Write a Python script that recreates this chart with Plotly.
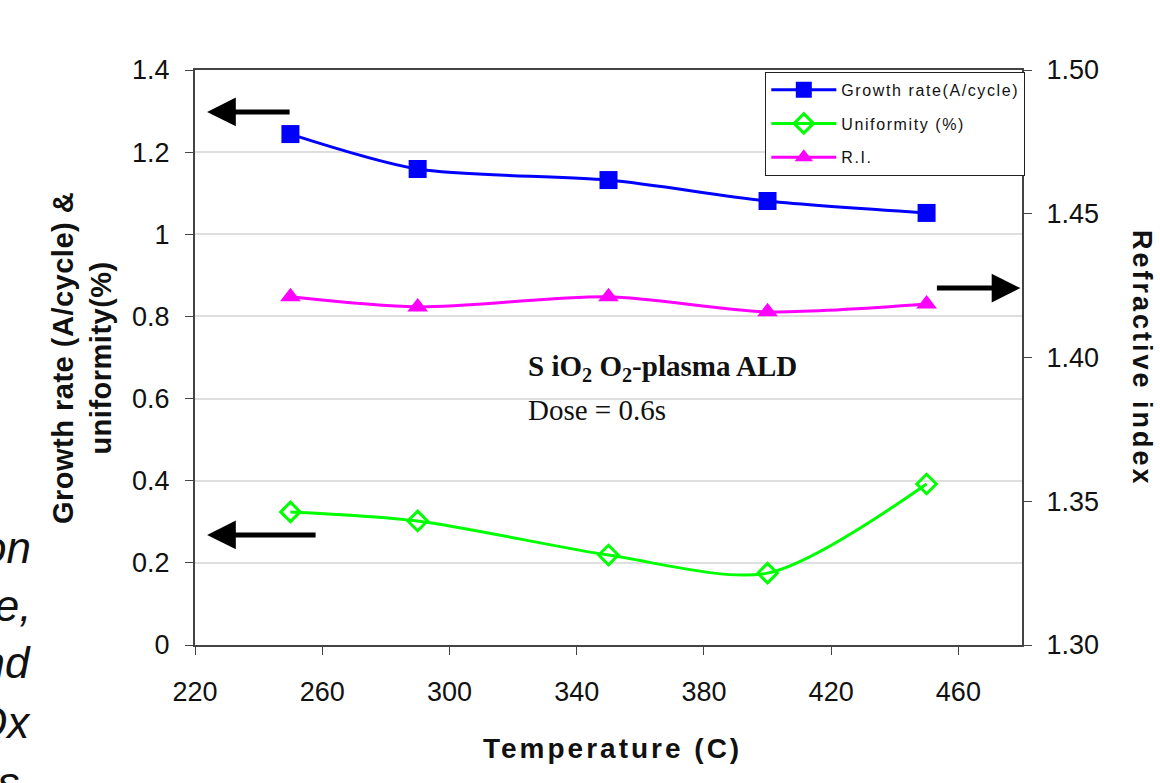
import plotly.graph_objects as go

# Deposition temperature (C)
temperature = [250, 290, 350, 400, 450]
# Growth rate (A/cycle), left axis
growth_rate = [1.244, 1.159, 1.132, 1.081, 1.052]
# Thickness uniformity (%), left axis
uniformity = [0.324, 0.302, 0.219, 0.175, 0.392]
# Refractive index, right axis
refractive_index = [1.4211, 1.4176, 1.4211, 1.4159, 1.4186]

x_ticks = [220, 260, 300, 340, 380, 420, 460]
left_ticks = [0, 0.2, 0.4, 0.6, 0.8, 1, 1.2, 1.4]
left_tick_text = ["0", "0.2", "0.4", "0.6", "0.8", "1", "1.2", "1.4"]
right_ticks = [1.30, 1.35, 1.40, 1.45, 1.50]
right_tick_text = ["1.30", "1.35", "1.40", "1.45", "1.50"]

AX = "#444444"
GRID = "#dedede"
SANS = "Liberation Sans, Arial, sans-serif"
SERIF = "Liberation Serif, Times New Roman, serif"


def spaced(text, px):
    return f'<span style="letter-spacing:{px}px">{text}</span>'


fig = go.Figure()

fig.add_trace(go.Scatter(
    x=temperature, y=growth_rate, name=spaced("Growth rate(A/cycle)", 1.6),
    mode="lines+markers", line=dict(color="#0000ff", width=3, shape="spline", smoothing=0.8),
    marker=dict(symbol="square", size=18, color="#0000ff"),
    legendgroup="g1",
))
fig.add_trace(go.Scatter(
    x=temperature, y=uniformity, name=spaced("Uniformity (%)", 1.6),
    mode="lines+markers", line=dict(color="#00ff00", width=3, shape="spline", smoothing=0.8),
    marker=dict(symbol="diamond-open", size=15, color="#00ff00", line=dict(width=3)),
    legendgroup="g2",
))
fig.add_trace(go.Scatter(
    x=temperature, y=refractive_index, name=spaced("R.I.", 1.6), yaxis="y2",
    mode="lines+markers", line=dict(color="#ff00ff", width=3, shape="spline", smoothing=0.8),
    marker=dict(symbol="triangle-up", size=18, color="#ff00ff"),
    legendgroup="g3",
))

pl, pr, pt, pb = 195, 138, 70, 138
W, H = 1160, 783
pw, ph = W - pl - pr, H - pt - pb


def px_x(v):
    return (v - pl) / pw


def px_y(v):
    return (H - pb - v) / ph


annotations = [
    dict(text="<b>S iO<sub>2</sub> O<sub>2</sub>-plasma ALD</b>", x=324, y=0.674, xref="x", yref="y",
         xanchor="left", yanchor="middle", showarrow=False,
         font=dict(family=SERIF, size=29, color="#111111")),
    dict(text="Dose = 0.6s", x=324, y=0.572, xref="x", yref="y",
         xanchor="left", yanchor="middle", showarrow=False,
         font=dict(family=SERIF, size=29, color="#111111")),
    # Axis titles
    dict(text="<b>" + spaced("Growth rate (A/cycle) &", 0.5) + "<br>" + spaced("uniformity(%)", 0.5) + "</b>",
         x=px_x(82), y=px_y(358), xref="paper", yref="paper",
         xanchor="center", yanchor="middle", showarrow=False, textangle=-90,
         font=dict(family=SANS, size=29, color="#111111")),
    dict(text="<b>" + spaced("Refractive index", 3) + "</b>",
         x=px_x(1142), y=px_y(358), xref="paper", yref="paper",
         xanchor="center", yanchor="middle", showarrow=False, textangle=90,
         font=dict(family=SANS, size=27, color="#111111")),
    dict(text="<b>" + spaced("Temperature (C)", 3) + "</b>",
         x=px_x(612), y=px_y(748), xref="paper", yref="paper",
         xanchor="center", yanchor="middle", showarrow=False,
         font=dict(family=SANS, size=28, color="#111111")),
]

# Axis direction arrows
arrows = [
    dict(x=223.8, y=1.298, ax=84, ay=0),
    dict(x=223.8, y=0.268, ax=110, ay=0),
    dict(x=479.5, y=0.869, ax=-85, ay=0),
]
for a in arrows:
    annotations.append(dict(
        x=a["x"], y=a["y"], xref="x", yref="y", ax=a["ax"], ay=a["ay"],
        text="", showarrow=True, arrowhead=2, arrowsize=1.15, arrowwidth=5,
        arrowcolor="#000000", standoff=0, startstandoff=0,
    ))

# Fragments of slide text running off the left edge
side_text = [("tion", 33, 547), ("ate,", 33, 605), ("and", 33, 662), ("SiOx", 33, 722), ("films", 21, 782)]
for word, right_px, ypx in side_text:
    annotations.append(dict(
        text=f"<i>{word}</i>", x=px_x(right_px), y=px_y(ypx),
        xref="paper", yref="paper", xanchor="right", yanchor="middle",
        showarrow=False, font=dict(family=SANS, size=44, color="#111111"),
    ))

fig.update_layout(
    width=W, height=H,
    margin=dict(l=pl, r=pr, t=pt, b=pb),
    paper_bgcolor="white", plot_bgcolor="white",
    font=dict(family=SANS, size=27, color="#111111"),
    showlegend=True,
    legend=dict(
        x=1.004, y=0.997, xanchor="right", yanchor="top",
        bgcolor="white", bordercolor="#222222", borderwidth=1,
        font=dict(family=SANS, size=16, color="#111111"),
        itemwidth=65, traceorder="grouped", tracegroupgap=10,
    ),
    xaxis=dict(
        range=[220, 480], tickvals=x_ticks, ticks="outside", ticklen=8,
        tickcolor=AX, showline=True, linecolor=AX, linewidth=2, mirror=True,
        showgrid=False, zeroline=False, tickfont=dict(size=27),
        ticklabelstandoff=14,
    ),
    yaxis=dict(
        range=[0, 1.4], tickvals=left_ticks, ticktext=left_tick_text,
        ticks="outside", ticklen=8, tickcolor=AX,
        showline=True, linecolor=AX, linewidth=2,
        showgrid=True, gridcolor=GRID, gridwidth=2, zeroline=False,
        tickfont=dict(size=27), ticklabelstandoff=10,
    ),
    yaxis2=dict(
        range=[1.30, 1.50], tickvals=right_ticks, ticktext=right_tick_text,
        overlaying="y", side="right", ticks="outside", ticklen=8, tickcolor=AX,
        showline=True, linecolor=AX, linewidth=2,
        showgrid=False, zeroline=False, tickfont=dict(size=27),
        ticklabelstandoff=9,
    ),
    annotations=annotations,
)

fig.write_html("out.html")
